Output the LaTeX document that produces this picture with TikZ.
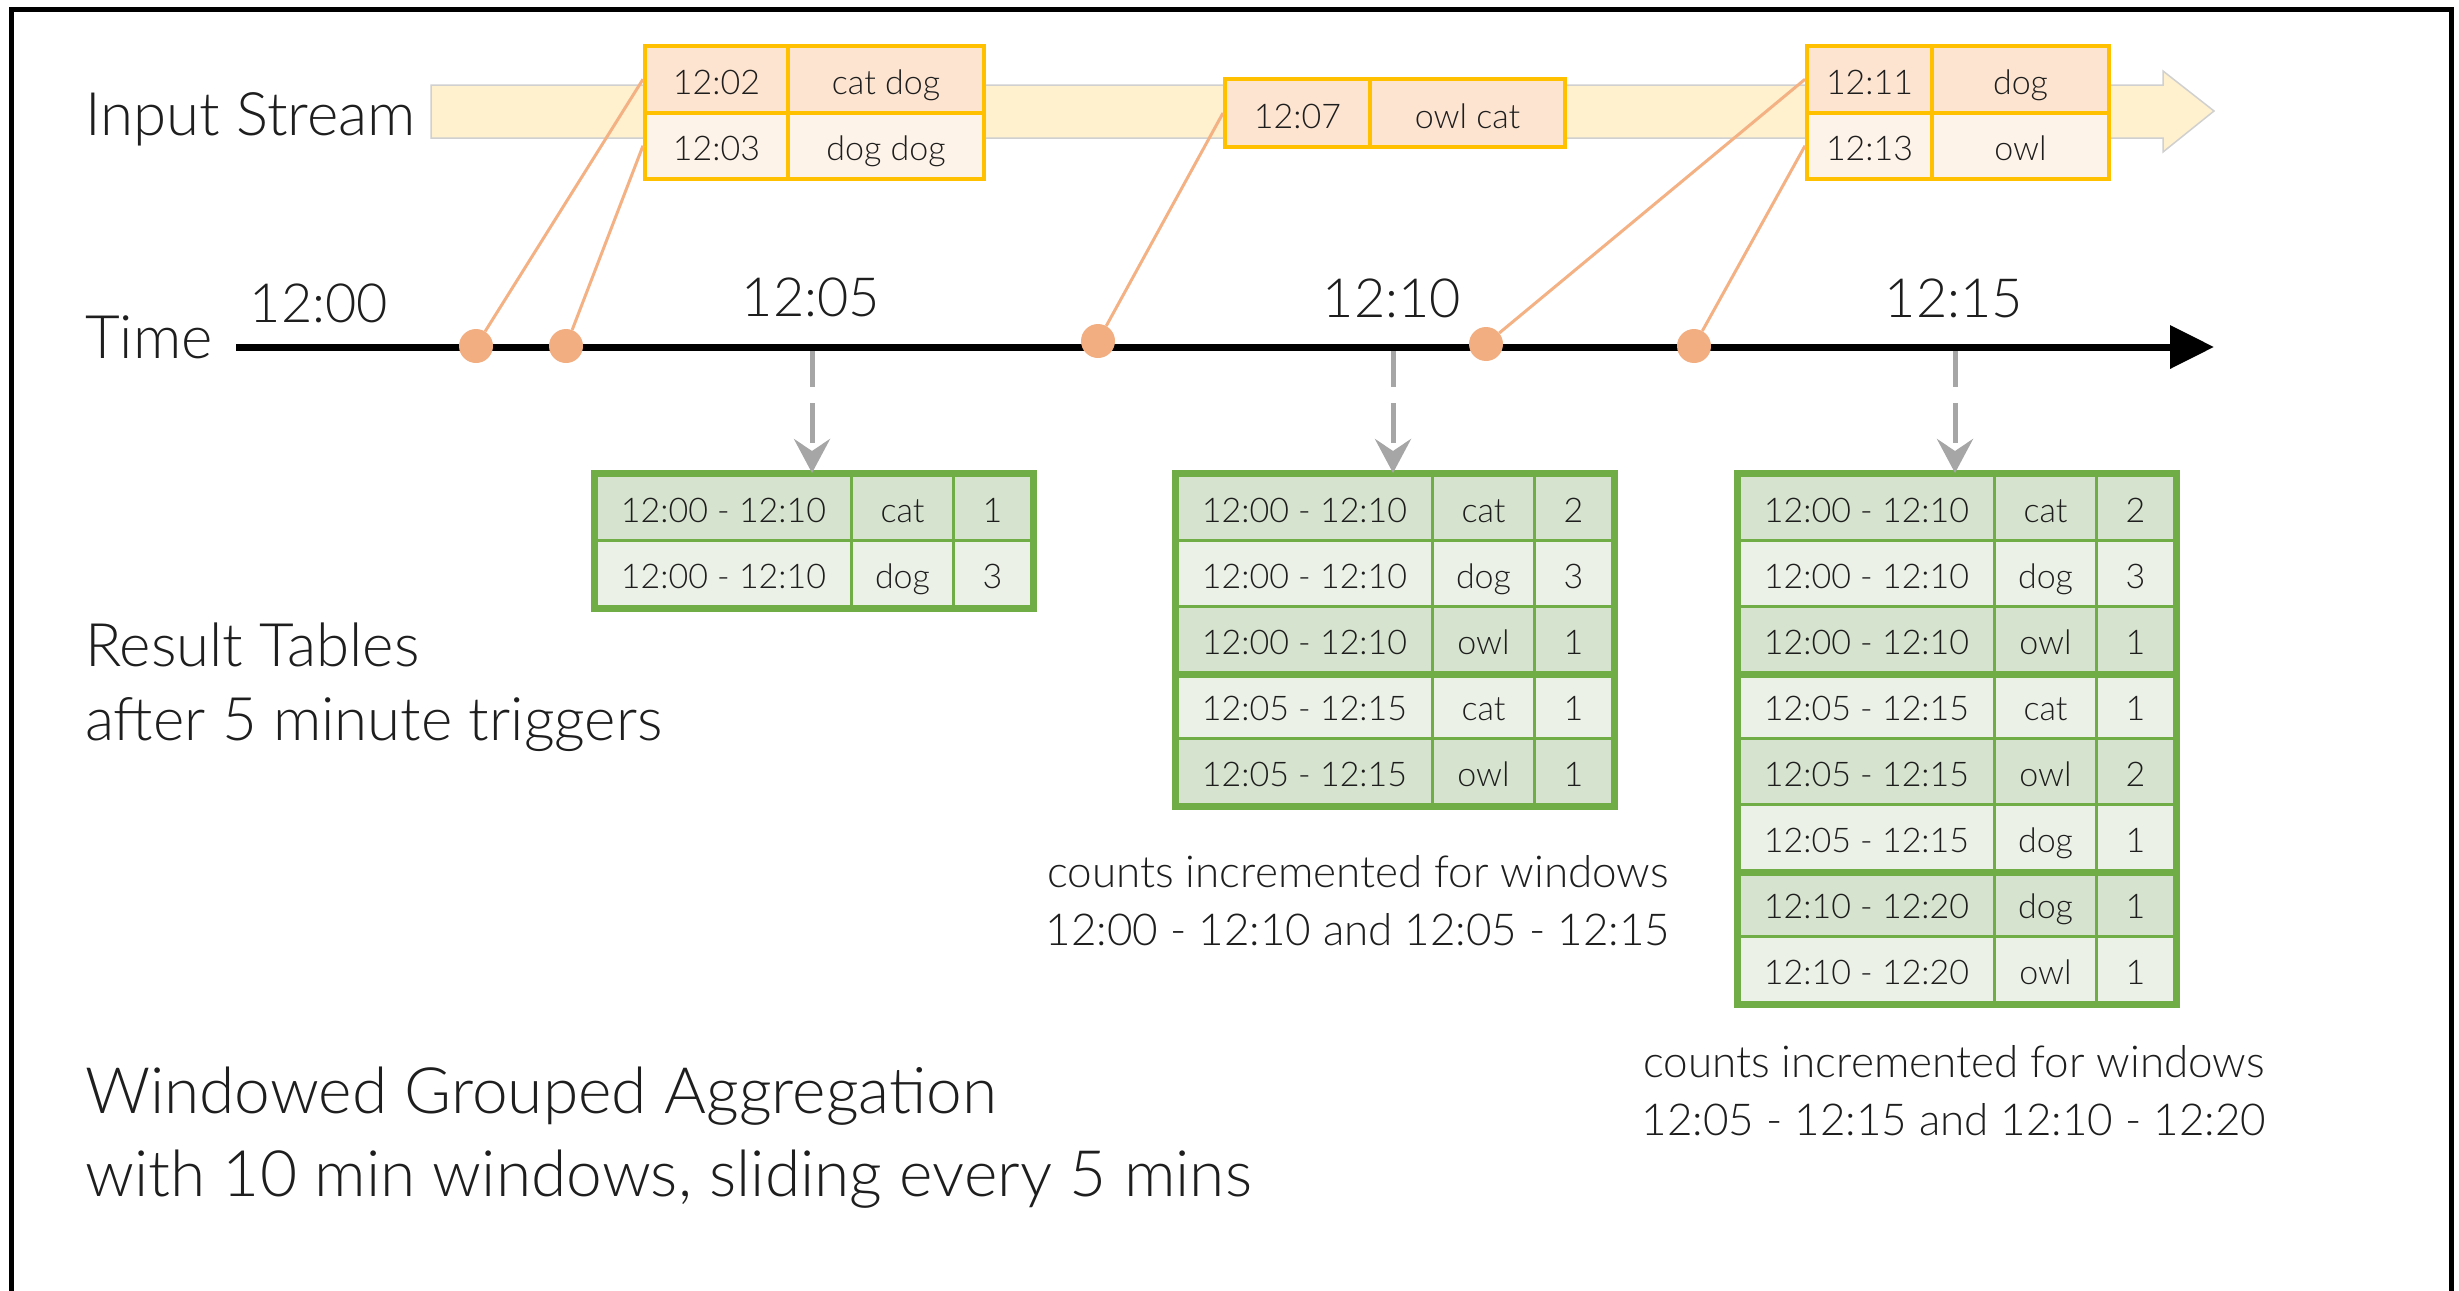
\documentclass[tikz,border=0pt]{standalone}
\usepackage{fontspec}
\setmainfont{Lato}[UprightFont=* Light]
\usetikzlibrary{arrows.meta}
\definecolor{gold}{HTML}{FFC000}
\definecolor{peachA}{HTML}{FCE4D0}
\definecolor{peachB}{HTML}{FEF3E8}
\definecolor{bandc}{HTML}{FFF1CE}
\definecolor{bandedge}{HTML}{D0D0D0}
\definecolor{dotc}{HTML}{F2AD80}
\definecolor{connc}{HTML}{F4B183}
\definecolor{gborder}{HTML}{70AD47}
\definecolor{gdark}{HTML}{D6E3CE}
\definecolor{glight}{HTML}{EBF1E7}
\definecolor{arrowgray}{HTML}{A6A6A6}
\definecolor{txt}{HTML}{1E1E1E}
\newcommand\fbig{\fontsize{60}{68}\selectfont}
\newcommand\ftitle{\fontsize{64}{74}\selectfont}
\newcommand\ftime{\fontsize{54}{60}\selectfont}
\newcommand\ftab{\fontsize{34}{40}\selectfont}
\newcommand\fcap{\fontsize{44}{50}\selectfont}
\tikzset{
  gcell/.style={draw=gborder, line width=3pt, anchor=north west, minimum height=66pt,
    inner sep=0pt, font=\ftab, text=txt, text height=31pt, text depth=1pt},
  ecell/.style={draw=gold, line width=4pt, anchor=north west, minimum height=66.5pt,
    inner sep=0pt, font=\ftab, text=txt, text height=31pt, text depth=1pt},
  dotn/.style={circle, fill=dotc, minimum size=34pt, inner sep=0pt},
  conn/.style={draw=connc, line width=3pt},
  darrow/.style={draw=arrowgray, line width=5pt, dash pattern=on 40pt off 16pt,
    -{Stealth[length=34pt,width=36pt,inset=12pt]}},
  lbl/.style={text=txt, inner sep=0pt},
}
\newcommand\greentable[3]{%
  \foreach \ww/\kk/\nn/\ff [count=\i] in {#3}{%
    \pgfmathsetmacro\yy{473+(\i-1)*66}
    \node[gcell, fill=\ff, minimum width=256pt] (#1-\i-a) at (#2,\yy) {\ww};
    \node[gcell, fill=\ff, minimum width=102pt] (#1-\i-b) at (#2+256,\yy) {\kk};
    \node[gcell, fill=\ff, minimum width=78pt] (#1-\i-c) at (#2+358,\yy) {\nn};
  }%
}
\begin{document}
\begin{tikzpicture}[x=1pt,y=-1pt]
\useasboundingbox (0,0) rectangle (2459,1290);
% frame
\draw[line width=5pt] (11,1295) -- (11,10) -- (2451,10) -- (2451,1295);
% input stream band
\filldraw[fill=bandc, draw=bandedge, line width=1.5pt]
  (431,85) -- (2163,85) -- (2163,71) -- (2214,111) -- (2163,152) -- (2163,138) -- (431,138) -- cycle;
% event boxes
\node[ecell, fill=peachA, minimum width=143pt] (e1a) at (643,44) {12:02};
\node[ecell, fill=peachA, minimum width=196pt] (e1b) at (786,44) {cat dog};
\node[ecell, fill=peachB, minimum width=143pt] (e1c) at (643,110.5) {12:03};
\node[ecell, fill=peachB, minimum width=196pt] (e1d) at (786,110.5) {dog dog};
\node[ecell, fill=peachA, minimum width=145pt, minimum height=68pt] (e2a) at (1223,77) {12:07};
\node[ecell, fill=peachA, minimum width=195pt, minimum height=68pt] (e2b) at (1368,77) {owl cat};
\node[ecell, fill=peachA, minimum width=125pt] (e3a) at (1805,44) {12:11};
\node[ecell, fill=peachA, minimum width=177pt] (e3b) at (1930,44) {dog};
\node[ecell, fill=peachB, minimum width=125pt] (e3c) at (1805,110.5) {12:13};
\node[ecell, fill=peachB, minimum width=177pt] (e3d) at (1930,110.5) {owl};
% result tables
\greentable{ta}{594}{12:00 - 12:10/cat/1/gdark, 12:00 - 12:10/dog/3/glight}
\greentable{tb}{1175}{12:00 - 12:10/cat/2/gdark, 12:00 - 12:10/dog/3/glight, 12:00 - 12:10/owl/1/gdark, 12:05 - 12:15/cat/1/glight, 12:05 - 12:15/owl/1/gdark}
\greentable{tc}{1737}{12:00 - 12:10/cat/2/gdark, 12:00 - 12:10/dog/3/glight, 12:00 - 12:10/owl/1/gdark, 12:05 - 12:15/cat/1/glight, 12:05 - 12:15/owl/2/gdark, 12:05 - 12:15/dog/1/glight, 12:10 - 12:20/dog/1/gdark, 12:10 - 12:20/owl/1/glight}
\draw[gborder, line width=7pt] (ta-1-a.north west) rectangle (ta-2-c.south east);
\draw[gborder, line width=7pt] (tb-1-a.north west) rectangle (tb-5-c.south east);
\draw[gborder, line width=7pt] (tc-1-a.north west) rectangle (tc-8-c.south east);
\draw[gborder, line width=7pt] (tb-3-a.south west) -- (tb-3-c.south east);
\draw[gborder, line width=7pt] (tc-3-a.south west) -- (tc-3-c.south east);
\draw[gborder, line width=7pt] (tc-6-a.south west) -- (tc-6-c.south east);
% axis
\coordinate (ax0) at (236,347);
\coordinate (ax1) at (2214,347);
\coordinate (tk1) at (812,347);
\coordinate (tk2) at (1393,347);
\coordinate (tk3) at (1955,347);
\draw[darrow] (tk1) -- (tk1 |- ta-1-a.north);
\draw[darrow] (tk2) -- (tk2 |- tb-1-a.north);
\draw[darrow] (tk3) -- (tk3 |- tc-1-a.north);
\draw[line width=7pt, -{Triangle[length=44pt,width=42pt]}] (ax0) -- (ax1);
% dots
\node[dotn] (d1) at (476,346) {};
\node[dotn] (d2) at (566,346) {};
\node[dotn] (d3) at (1098,341) {};
\node[dotn] (d4) at (1486,344) {};
\node[dotn] (d5) at (1694,346) {};
\draw[conn] (e1a.west) -- (d1);
\draw[conn] (e1c.west) -- (d2);
\draw[conn] (e2a.west) -- (d3);
\draw[conn] (e3a.west) -- (d4);
\draw[conn] (e3c.west) -- (d5);
% labels
\node[lbl, anchor=base west, font=\fbig] (lin) at (85,135) {Input Stream};
\node[lbl, anchor=base west, font=\fbig] (ltime) at (85,358) {Time};
\node[lbl, anchor=base, font=\ftime] (l00) at (319,322) {12:00};
\node[lbl, anchor=base, font=\ftime] (l05) at (811,316) {12:05};
\node[lbl, anchor=base, font=\ftime] (l10) at (1392,317) {12:10};
\node[lbl, anchor=base, font=\ftime] (l15) at (1954,317) {12:15};
\node[lbl, anchor=base west, font=\fbig] (res1) at (85,666) {Result Tables};
\node[lbl, anchor=base west, font=\fbig] (res2) at (85,740) {after 5 minute triggers};
\node[lbl, anchor=base, font=\fcap] (cap1a) at (1358,887) {counts incremented for windows};
\node[lbl, anchor=base, font=\fcap] (cap1b) at (1358,945) {12:00 - 12:10 and 12:05 - 12:15};
\node[lbl, anchor=base, font=\fcap] (cap2a) at (1954,1077) {counts incremented for windows};
\node[lbl, anchor=base, font=\fcap] (cap2b) at (1954,1135) {12:05 - 12:15 and 12:10 - 12:20};
\node[lbl, anchor=base west, font=\ftitle] (tit1) at (85,1113) {Windowed Grouped Aggregation};
\node[lbl, anchor=base west, font=\ftitle] (tit2) at (85,1196) {with 10 min windows, sliding every 5 mins};
\end{tikzpicture}
\end{document}
